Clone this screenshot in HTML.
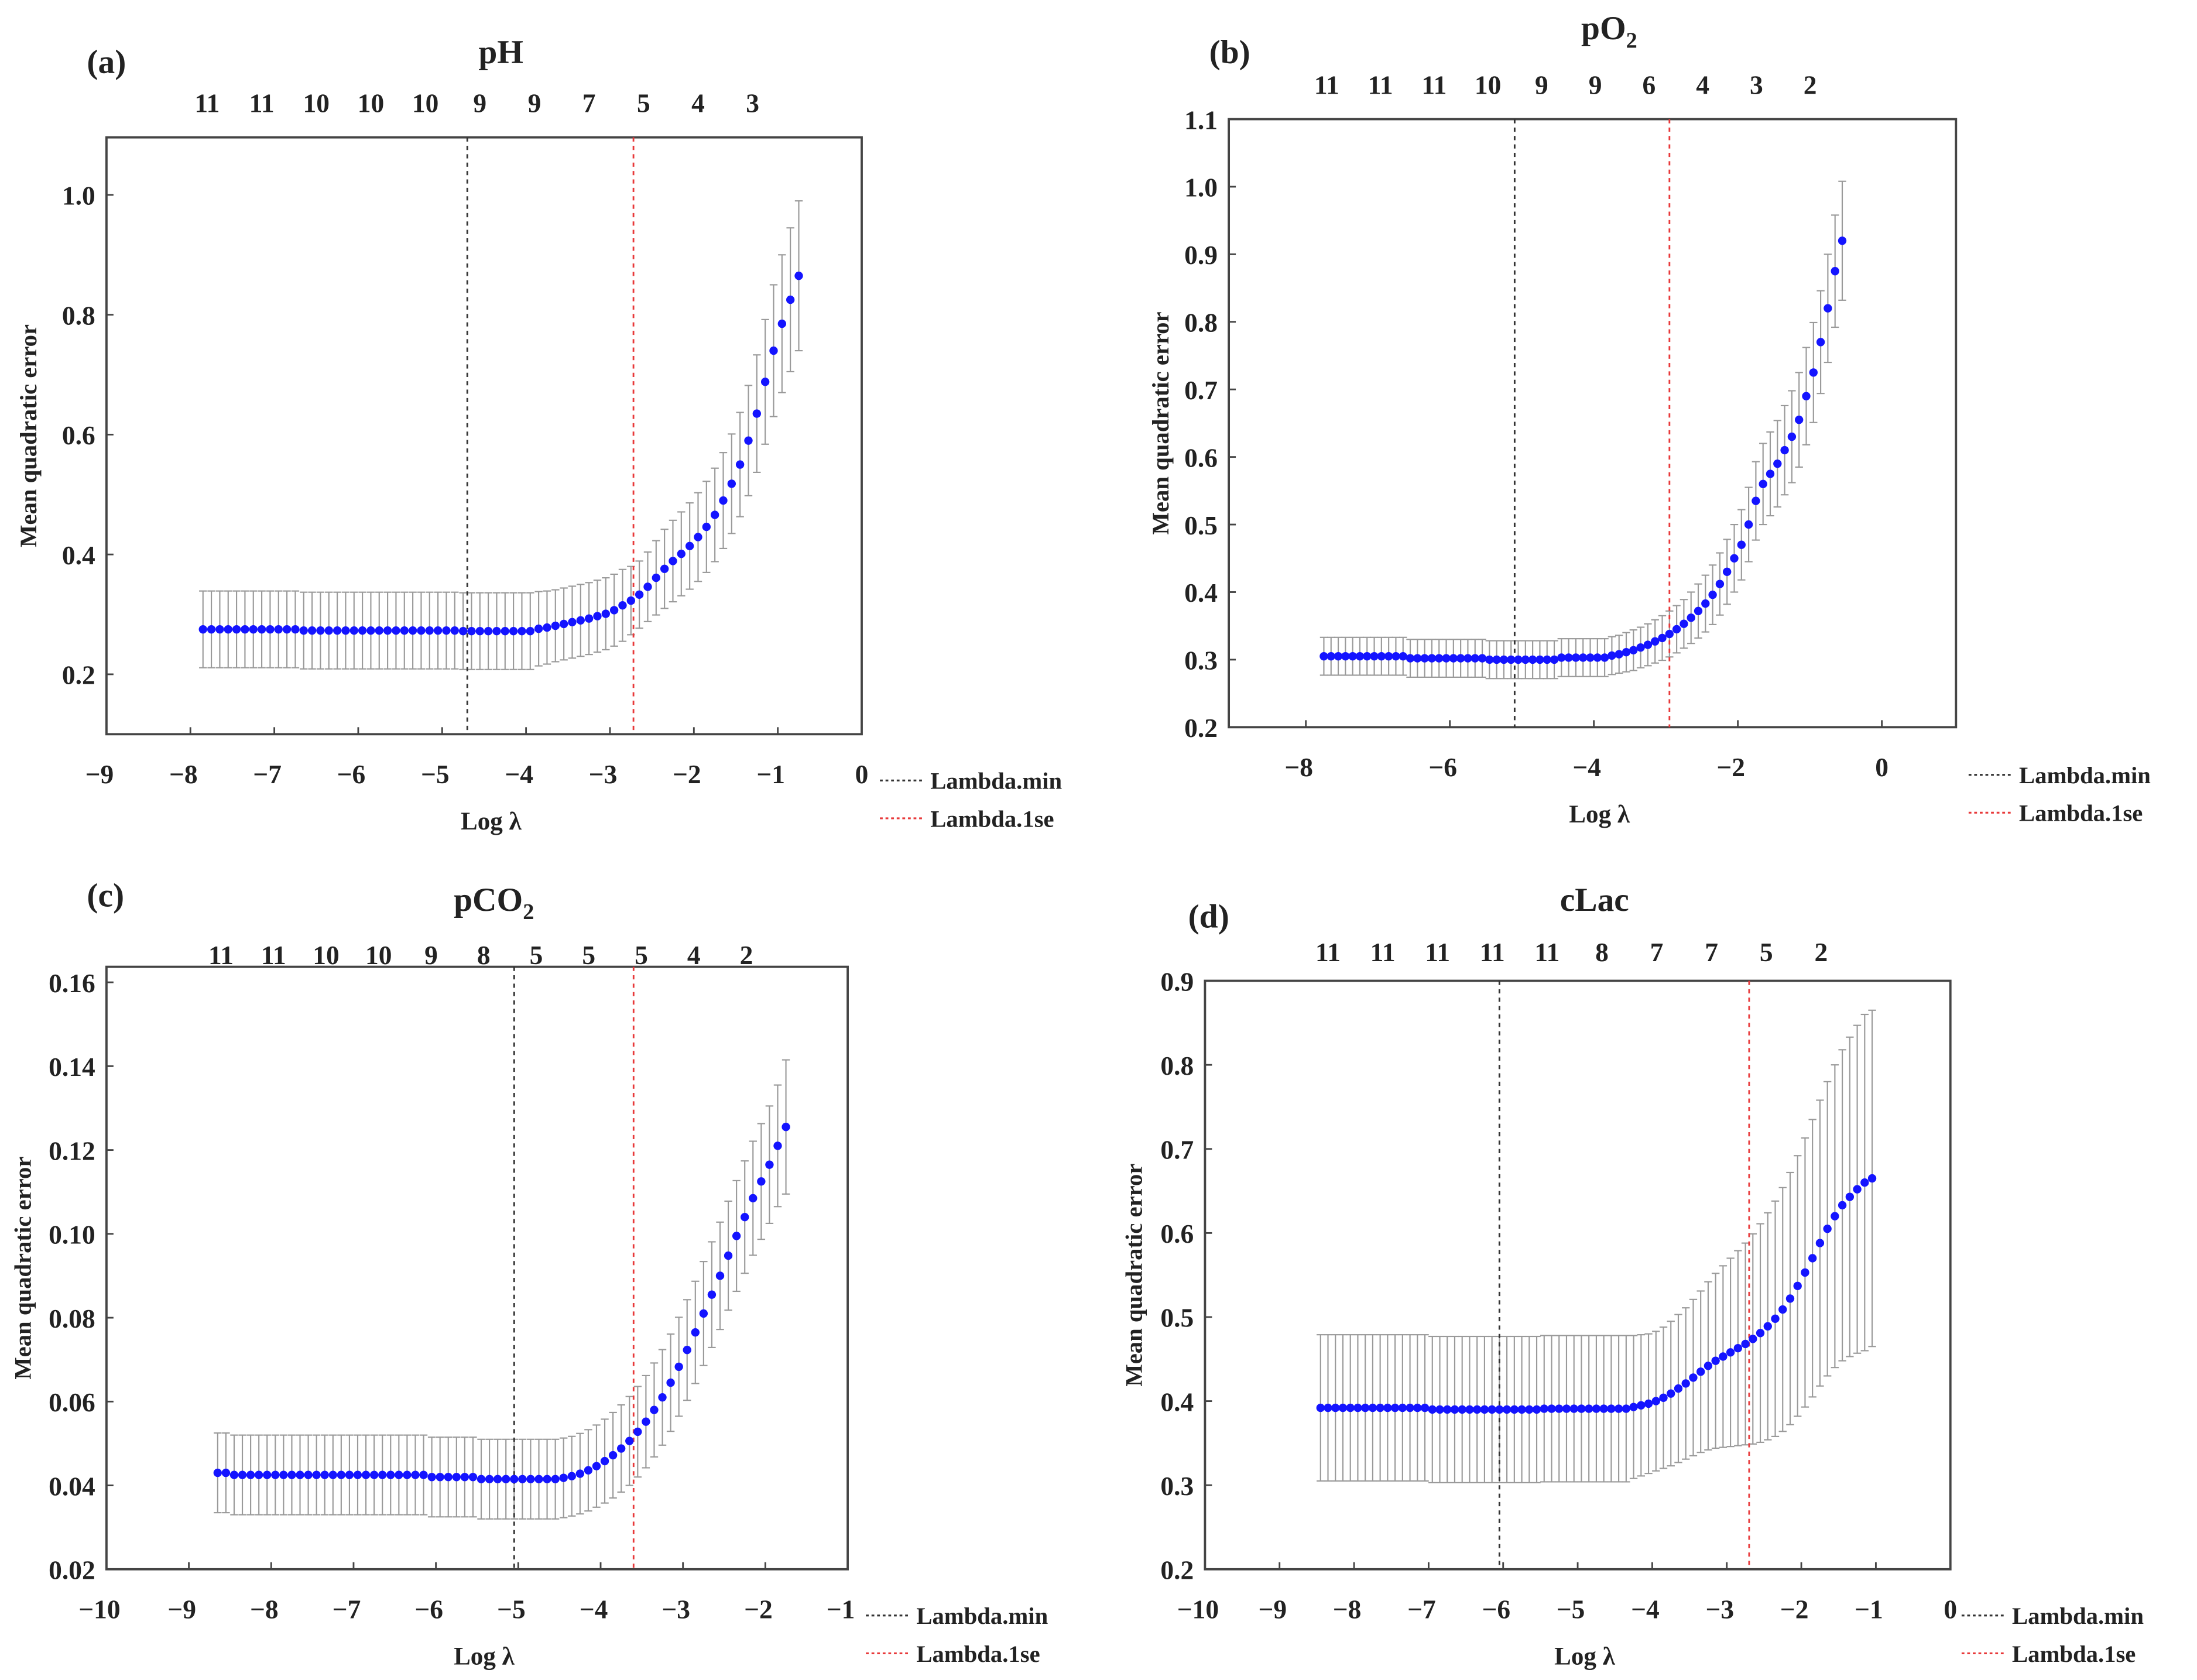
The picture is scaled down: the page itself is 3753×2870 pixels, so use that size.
<!DOCTYPE html>
<html><head><meta charset="utf-8"><style>
html,body{margin:0;padding:0;background:#fff;}
svg{display:block;}
text{font-family:"Liberation Serif",serif;font-weight:bold;fill:#222;}
</style></head><body>
<svg id="fig" width="3753" height="2870" viewBox="0 0 1568 1199" xmlns="http://www.w3.org/2000/svg"></svg>
<script>
// ---------- Panel (a) pH ----------
const aX0 = -7.85, aStep = 0.1;
const aMean = [].concat(Array(12).fill(0.275), Array(19).fill(0.273), Array(9).fill(0.272),
 [0.276,0.278,0.281,0.284,0.287,0.290,0.293,0.297,0.301,0.307,0.315,0.323,0.333,0.346,0.361,0.376,0.389,0.401,0.414,0.429,0.446,0.466,0.49,0.518,0.55,0.59,0.635,0.688,0.74,0.785,0.825,0.865]);
const aSe = [].concat(Array(40).fill(0.064),
 [0.062,0.061,0.06,0.06,0.06,0.06,0.06,0.06,0.06,0.06,0.06,0.057,0.056,0.058,0.062,0.066,0.068,0.07,0.072,0.074,0.076,0.078,0.08,0.083,0.087,0.092,0.098,0.104,0.11,0.115,0.12,0.125]);
const aTop = ["11","11","10","10","10","9","9","7","5","4","3"];
// ---------- Panel (b) pO2 ----------
const bX0 = -7.75, bStep = 0.1;
const bMean = [].concat(Array(12).fill(0.305), Array(11).fill(0.302), Array(10).fill(0.300), Array(7).fill(0.303),
 [0.306,0.308,0.311,0.314,0.318,0.322,0.327,0.332,0.338,0.345,0.353,0.362,0.372,0.383,0.396,0.412,0.43,0.45,0.47,0.50,0.535,0.56,0.575,0.59,0.61,0.63,0.655,0.69,0.725,0.77,0.82,0.875,0.92]);
const bSe = [].concat(Array(40).fill(0.028),
 [0.028,0.028,0.029,0.03,0.03,0.031,0.032,0.033,0.034,0.035,0.036,0.038,0.04,0.042,0.044,0.046,0.048,0.05,0.052,0.055,0.058,0.06,0.062,0.064,0.066,0.068,0.07,0.072,0.074,0.076,0.08,0.083,0.088]);
const bTop = ["11","11","11","10","9","9","6","4","3","2"];
// ---------- Panel (c) pCO2 ----------
const cX0 = -8.65, cStep = 0.1;
const cMean = [].concat([0.043,0.043], Array(24).fill(0.0425), Array(6).fill(0.042), Array(10).fill(0.0415),
 [0.0418,0.0422,0.0428,0.0436,0.0446,0.0458,0.0472,0.0488,0.0506,0.0528,0.0552,0.058,0.061,0.0645,0.0683,0.0723,0.0765,0.081,0.0855,0.09,0.0948,0.0995,0.104,0.1085,0.1125,0.1165,0.121,0.1255]);
const cSe = [].concat(Array(42).fill(0.0095),
 [0.0095,0.0095,0.0096,0.0097,0.0098,0.01,0.0102,0.0104,0.0106,0.0108,0.011,0.0112,0.0114,0.0116,0.0118,0.012,0.0122,0.0124,0.0126,0.0128,0.013,0.0132,0.0134,0.0136,0.0138,0.014,0.0145,0.016]);
const cTop = ["11","11","10","10","9","8","5","5","5","4","2"];
// ---------- Panel (d) cLac ----------
const dX0 = -8.45, dStep = 0.1;
const dMean = [].concat(Array(15).fill(0.392), Array(15).fill(0.390), Array(12).fill(0.391),
 [0.393,0.395,0.397,0.40,0.404,0.409,0.415,0.421,0.428,0.435,0.442,0.448,0.453,0.458,0.463,0.468,0.474,0.481,0.489,0.498,0.509,0.522,0.537,0.553,0.57,0.588,0.605,0.62,0.633,0.643,0.652,0.66,0.665]);
const dSe = [].concat(Array(42).fill(0.087),
 [0.085,0.084,0.083,0.083,0.084,0.086,0.088,0.09,0.093,0.096,0.1,0.104,0.108,0.112,0.116,0.12,0.125,0.13,0.135,0.14,0.145,0.15,0.155,0.16,0.165,0.17,0.175,0.18,0.185,0.19,0.195,0.2,0.2]);
const dTop = ["11","11","11","11","11","8","7","7","5","2"];

const NS = "http://www.w3.org/2000/svg";
const svg = document.getElementById("fig");
function mk(tag, attrs, parent){
  const e = document.createElementNS(NS, tag);
  for (const k in attrs) e.setAttribute(k, attrs[k]);
  (parent||svg).appendChild(e); return e;
}
function txt(str, x, y, size, anchor, parent){
  const t = mk("text", {x:x, y:y, "font-size":size, "text-anchor":anchor||"middle"}, parent);
  t.textContent = str; return t;
}

function panel(p){
  const g = mk("g", {});
  
  
  const sx = v => p.L + (v - p.xmin) / (p.xmax - p.xmin) * (p.R - p.L);
  const sy = v => p.B - (v - p.ymin) / (p.ymax - p.ymin) * (p.B - p.T);
  const fr = mk("rect", {x:p.L, y:p.T, width:p.R-p.L, height:p.B-p.T, fill:"none", stroke:"#444", "stroke-width":1.6}, g);
  
  
  const xt = mk("g", {}, g);
  
  
  for (let v = p.xt0; v <= p.xt1 + 1e-9; v += p.xtStep){
    const x = sx(v);
    mk("line", {x1:x, x2:x, y1:p.B, y2:p.B-5, stroke:"#444", "stroke-width":1.2}, xt);
    txt((v < 0 ? "\u2212" : "") + Math.abs(Math.round(v)), x - (v<0?5:0), p.B + 35, 19, "middle", xt);
  }
  const yt = mk("g", {}, g);
  
  
  for (let i = 0; ; i++){
    const v = p.yt0 + i * p.ytStep;
    if (v > p.yt1 + 1e-9) break;
    const y = sy(v);
    mk("line", {x1:p.L, x2:p.L+5, y1:y, y2:y, stroke:"#444", "stroke-width":1.2}, yt);
    txt(v.toFixed(p.yDec), p.L - 8, y + 7, 19, "end", yt);
  }
  const tg = mk("g", {}, g);
  
  
  p.top.forEach((s, i) => txt(s, sx(p.topX0 + i * p.topStep), p.topY, 19, "middle", tg));
  const eb = mk("g", {stroke:"#9a9a9a", "stroke-width":0.9}, g);
  
  
  p.mean.forEach((m, i) => {
    const x = sx(p.x0 + i * p.step), y1 = sy(m - p.se[i]), y2 = sy(m + p.se[i]);
    mk("line", {x1:x, x2:x, y1:y1, y2:y2}, eb);
    mk("line", {x1:x-2.8, x2:x+2.8, y1:y1, y2:y1}, eb);
    mk("line", {x1:x-2.8, x2:x+2.8, y1:y2, y2:y2}, eb);
  });
  const lm = mk("line", {x1:sx(p.lmin), x2:sx(p.lmin), y1:p.T, y2:p.B, stroke:"#333", "stroke-width":1.2, "stroke-dasharray":"3,3"}, g);
  
  
  const l1 = mk("line", {x1:sx(p.l1se), x2:sx(p.l1se), y1:p.T, y2:p.B, stroke:"#e8393a", "stroke-width":1.2, "stroke-dasharray":"3,3"}, g);
  
  
  const pts = mk("g", {fill:"#1414ff"}, g);
  
  
  p.mean.forEach((m, i) => {
    mk("circle", {cx:sx(p.x0 + i * p.step), cy:sy(m), r:3.0}, pts);
  });
  const pl = txt(p.label, p.labelX, p.labelY, 24, "start", g);
  
  
  const tt = mk("text", {x:(p.L+p.R)/2 + 12, y:p.titleY, "font-size":24, "text-anchor":"middle"}, g);
  
  
  tt.appendChild(document.createTextNode(p.title));
  if (p.sub){
    const ts = mk("tspan", {dy:6, "font-size":16}, tt);
    ts.textContent = p.sub;
  }
  const xl = txt("Log \u03bb", (p.L+p.R)/2 + 5, p.B + 68, 18, "middle", g);
  
  
  const yl = txt("Mean quadratic error", 0, 0, 17, "middle", g);
  yl.setAttribute("transform", "translate(" + p.ylX + "," + ((p.T+p.B)/2) + ") rotate(-90)");
  
  
  const lg = mk("g", {}, g);
  
  
  mk("line", {x1:p.legX, x2:p.legX+30, y1:p.legY, y2:p.legY, stroke:"#333", "stroke-width":1.3, "stroke-dasharray":"2,2"}, lg);
  txt("Lambda.min", p.legX + 36, p.legY + 6, 17, "start", lg);
  mk("line", {x1:p.legX, x2:p.legX+30, y1:p.legY+27, y2:p.legY+27, stroke:"#e8393a", "stroke-width":1.3, "stroke-dasharray":"2,2"}, lg);
  txt("Lambda.1se", p.legX + 36, p.legY + 33, 17, "start", lg);
}

panel({id:"a", L:76, R:615, T:98, B:524, xmin:-9, xmax:0, ymin:0.1, ymax:1.096,
  xt0:-9, xt1:0, xtStep:1, yt0:0.2, yt1:1.0, ytStep:0.2, yDec:1,
  x0:aX0, step:aStep, mean:aMean, se:aSe, top:aTop, topX0:-7.8, topStep:0.65, topY:80,
  lmin:-4.7, l1se:-2.72, label:"(a)", labelX:62, labelY:52, title:"pH", titleY:45, ylX:26,
  legX:628, legY:557});
panel({id:"b", L:877, R:1396, T:85, B:519, xmin:-9.07, xmax:1.03, ymin:0.2, ymax:1.1,
  xt0:-8, xt1:0, xtStep:2, yt0:0.2, yt1:1.1, ytStep:0.1, yDec:1,
  x0:bX0, step:bStep, mean:bMean, se:bSe, top:bTop, topX0:-7.71, topStep:0.746, topY:67,
  lmin:-5.1, l1se:-2.95, label:"(b)", labelX:863, labelY:45, title:"pO", sub:"2", titleY:28, ylX:834,
  legX:1405, legY:553});
panel({id:"c", L:76, R:605, T:690, B:1120, xmin:-10, xmax:-1, ymin:0.02, ymax:0.1637,
  xt0:-10, xt1:-1, xtStep:1, yt0:0.02, yt1:0.16, ytStep:0.02, yDec:2,
  x0:cX0, step:cStep, mean:cMean, se:cSe, top:cTop, topX0:-8.61, topStep:0.638, topY:688,
  lmin:-5.05, l1se:-3.6, label:"(c)", labelX:62, labelY:647, title:"pCO", sub:"2", titleY:650, ylX:22,
  legX:618, legY:1153});
panel({id:"d", L:860, R:1392, T:700, B:1120, xmin:-10, xmax:0, ymin:0.2, ymax:0.9,
  xt0:-10, xt1:0, xtStep:1, yt0:0.2, yt1:0.9, ytStep:0.1, yDec:1,
  x0:dX0, step:dStep, mean:dMean, se:dSe, top:dTop, topX0:-8.35, topStep:0.735, topY:686,
  lmin:-6.05, l1se:-2.7, label:"(d)", labelX:848, labelY:662, title:"cLac", titleY:650, ylX:815,
  legX:1400, legY:1153});
</script>
</body></html>
